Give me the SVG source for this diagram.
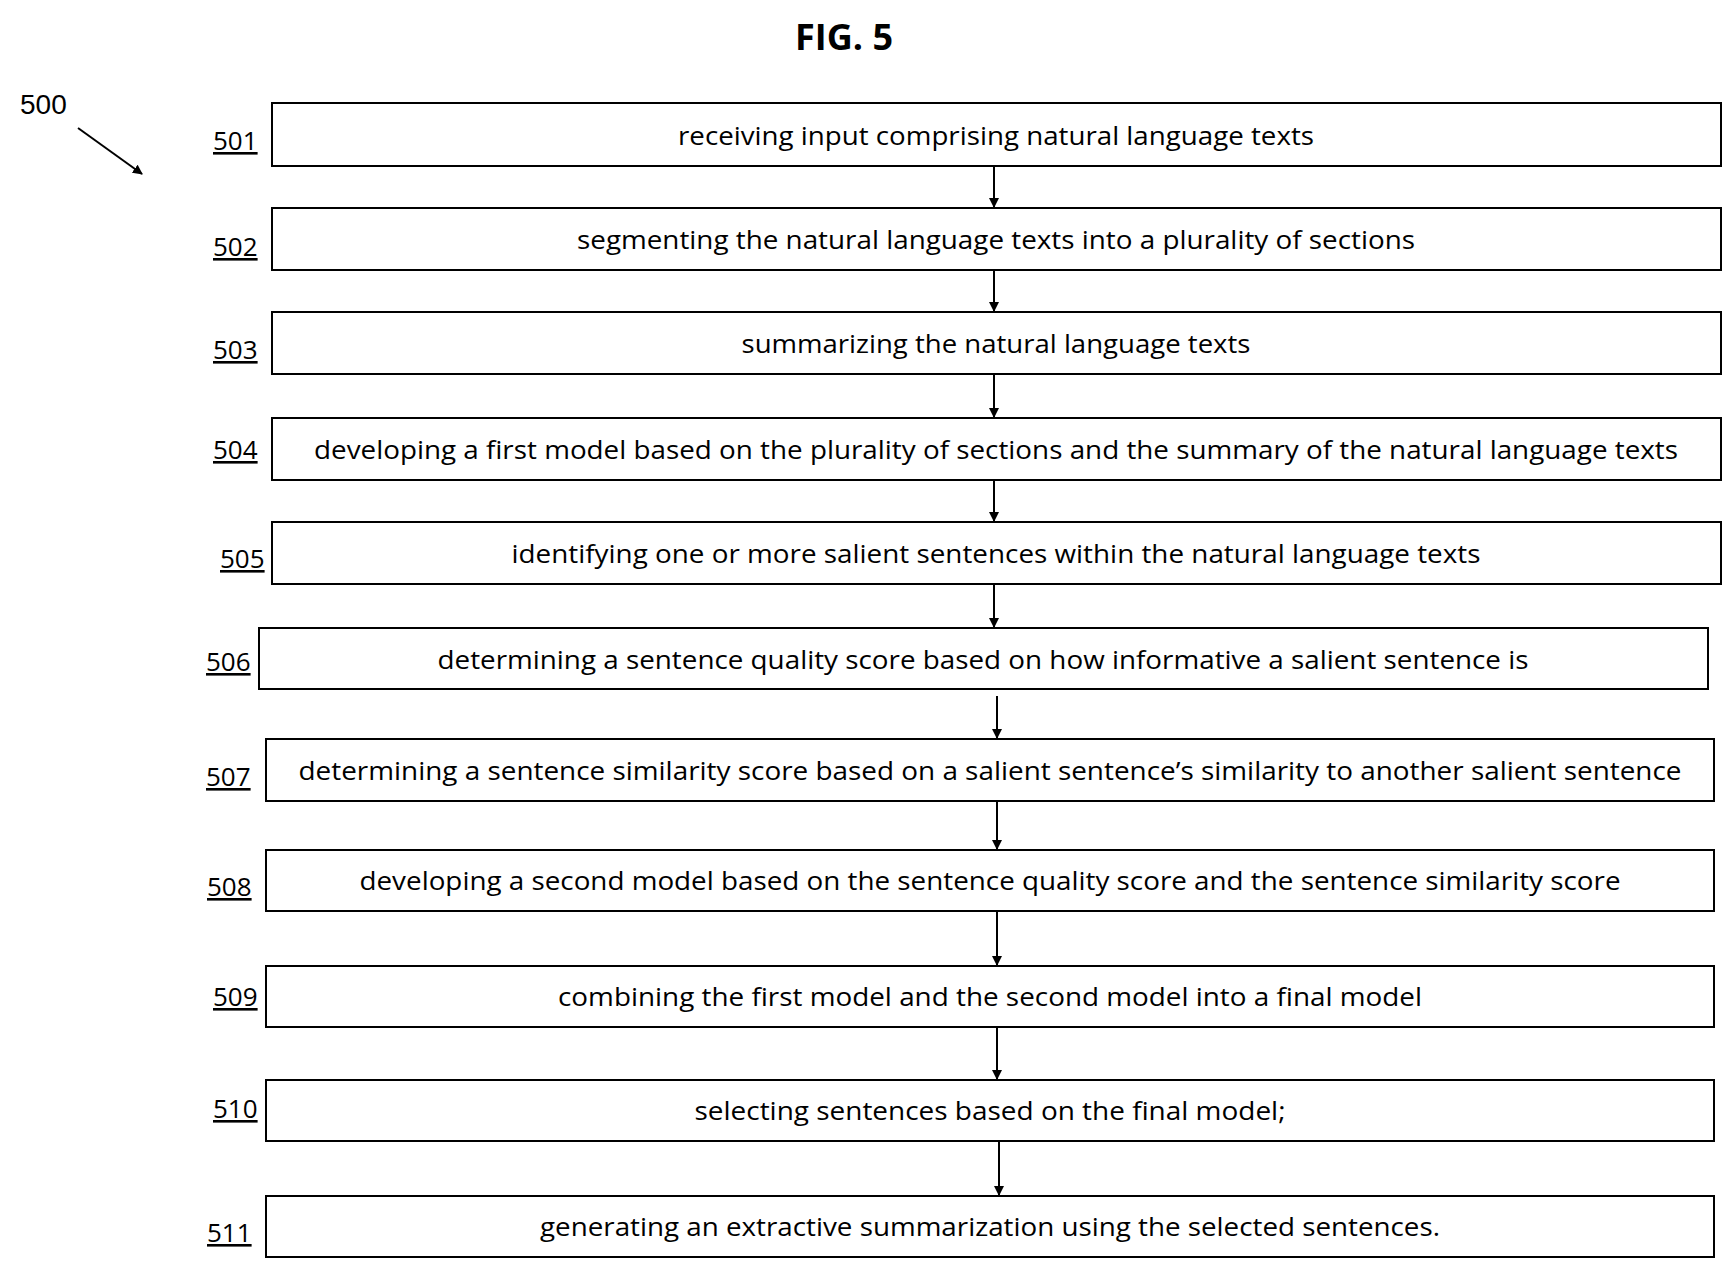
<svg xmlns="http://www.w3.org/2000/svg" width="1736" height="1274" viewBox="0 0 1736 1274">
<defs><marker id="ah" markerWidth="10" markerHeight="10" refX="9" refY="5" orient="auto" markerUnits="userSpaceOnUse" viewBox="0 0 10 10"><path d="M0,0 L10,5 L0,10 z" fill="#000"/></marker></defs>
<style>
.b{fill:#fff;stroke:#000;stroke-width:2}
.t{font-family:"Open Sans","Liberation Sans",sans-serif;font-size:26px;text-anchor:middle}
.l{font-family:"Open Sans","Liberation Sans",sans-serif;font-size:26px;text-decoration:underline}
.c line{stroke:#000;stroke-width:2;marker-end:url(#ah)}
</style>
<rect width="1736" height="1274" fill="#fff"/>
<text x="844" y="50" style="font-family:'Open Sans','Liberation Sans',sans-serif;font-size:36px;font-weight:bold;text-anchor:middle">FIG. 5</text>
<text x="20" y="114" style="font-family:'Liberation Sans',sans-serif;font-size:28px">500</text>
<g class="c">
<line x1="78" y1="128" x2="142" y2="174"/>
<line x1="994" y1="166" x2="994" y2="207"/>
<line x1="994" y1="270" x2="994" y2="311"/>
<line x1="994" y1="374" x2="994" y2="417"/>
<line x1="994" y1="480" x2="994" y2="521"/>
<line x1="994" y1="584" x2="994" y2="627"/>
<line x1="997" y1="696" x2="997" y2="738"/>
<line x1="997" y1="801" x2="997" y2="849"/>
<line x1="997" y1="911" x2="997" y2="965"/>
<line x1="997" y1="1027" x2="997" y2="1079"/>
<line x1="999" y1="1141" x2="999" y2="1195"/>
</g>
<g id="n501"><rect class="b" x="272" y="103" width="1449" height="63"/><text class="t" x="996" y="145" textLength="636" lengthAdjust="spacingAndGlyphs">receiving input comprising natural language texts</text><text class="l" x="213" y="150">501</text></g>
<g id="n502"><rect class="b" x="272" y="208" width="1449" height="62"/><text class="t" x="996" y="249" textLength="838" lengthAdjust="spacingAndGlyphs">segmenting the natural language texts into a plurality of sections</text><text class="l" x="213" y="256">502</text></g>
<g id="n503"><rect class="b" x="272" y="312" width="1449" height="62"/><text class="t" x="996" y="353" textLength="509" lengthAdjust="spacingAndGlyphs">summarizing the natural language texts</text><text class="l" x="213" y="359">503</text></g>
<g id="n504"><rect class="b" x="272" y="418" width="1449" height="62"/><text class="t" x="996" y="459" textLength="1364" lengthAdjust="spacingAndGlyphs">developing a first model based on the plurality of sections and the summary of the natural language texts</text><text class="l" x="213" y="459">504</text></g>
<g id="n505"><rect class="b" x="272" y="522" width="1449" height="62"/><text class="t" x="996" y="563" textLength="969" lengthAdjust="spacingAndGlyphs">identifying one or more salient sentences within the natural language texts</text><text class="l" x="220" y="568">505</text></g>
<g id="n506"><rect class="b" x="259" y="628" width="1449" height="61"/><text class="t" x="983" y="669" textLength="1091" lengthAdjust="spacingAndGlyphs">determining a sentence quality score based on how informative a salient sentence is</text><text class="l" x="206" y="671">506</text></g>
<g id="n507"><rect class="b" x="266" y="739" width="1448" height="62"/><text class="t" x="990" y="780" textLength="1383" lengthAdjust="spacingAndGlyphs">determining a sentence similarity score based on a salient sentence’s similarity to another salient sentence</text><text class="l" x="206" y="786">507</text></g>
<g id="n508"><rect class="b" x="266" y="850" width="1448" height="61"/><text class="t" x="990" y="890" textLength="1261" lengthAdjust="spacingAndGlyphs">developing a second model based on the sentence quality score and the sentence similarity score</text><text class="l" x="207" y="896">508</text></g>
<g id="n509"><rect class="b" x="266" y="966" width="1448" height="61"/><text class="t" x="990" y="1006" textLength="864" lengthAdjust="spacingAndGlyphs">combining the first model and the second model into a final model</text><text class="l" x="213" y="1006">509</text></g>
<g id="n510"><rect class="b" x="266" y="1080" width="1448" height="61"/><text class="t" x="990" y="1120" textLength="591" lengthAdjust="spacingAndGlyphs">selecting sentences based on the final model;</text><text class="l" x="213" y="1118">510</text></g>
<g id="n511"><rect class="b" x="266" y="1196" width="1448" height="61"/><text class="t" x="990" y="1236" textLength="900" lengthAdjust="spacingAndGlyphs">generating an extractive summarization using the selected sentences.</text><text class="l" x="207" y="1242">511</text></g>
</svg>
